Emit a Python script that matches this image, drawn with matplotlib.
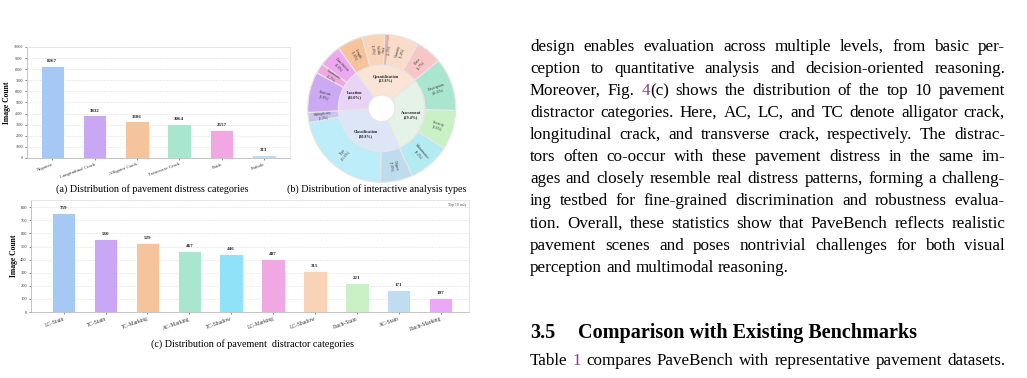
import numpy as np
import matplotlib
matplotlib.use('Agg')
import matplotlib.pyplot as plt

W, H = 1027, 378
LINK = '#8b3a96'

# (a) pavement distress categories
distress_names = ['Negative', 'Longitudinal Crack', 'Alligator Crack',
                  'Transverse Crack', 'Patch', 'Pothole']
distress_counts = [8267, 3832, 3306, 3064, 2557, 313]
distress_colors = ['#a6c8f5', '#c9a7f5', '#f5c49c', '#a9e6cf', '#f1a7e1', '#c0dcf0']

# (b) interactive analysis types, inner ring + outer ring
task_names = ['Quantification', 'Assessment', 'Classification', 'Location']
task_pct = [23.8, 29.4, 30.8, 16.0]
task_colors = ['#fbe4d5', '#e4f2e8', '#dde6f6', '#e9d3f6']
sub_names = ['Length', 'Width', 'Area', 'Quantity', 'Class',
             'Description', 'Severity', 'Maintenance',
             'Degree', 'Type', 'Multiplicity',
             'Position', 'Continuity', 'Distribution']
sub_pct = [5.6, 5.0, 1.1, 6.4, 5.7,
           11.6, 8.6, 9.2,
           7.0, 21.6, 2.2,
           8.9, 2.2, 4.9]
sub_colors = ['#f6c39b', '#f9d4b8', '#f2aa98', '#fbdcc9', '#f7c6c7',
              '#a9e5cf', '#c9f1c5', '#b3ebf2',
              '#bfdcef', '#bdedf8', '#cbc6ef',
              '#cda9f3', '#f0a9e0', '#eea8ef']

# (c) top 10 distractor categories
distractor_names = ['LC-Stain', 'TC-Stain', 'TC-Marking', 'AC-Marking', 'TC-Shadow',
                    'LC-Marking', 'LC-Shadow', 'Patch-Stain', 'AC-Stain', 'Patch-Marking']
distractor_counts = [759, 560, 529, 467, 446, 407, 315, 221, 171, 107]
distractor_colors = ['#a6c8f5', '#c9a7f5', '#f5c49c', '#a9e6cf', '#8fe2f8',
                     '#f1a7e1', '#f8d3b6', '#c9f1c5', '#c0dcf0', '#eba8f8']

body_lines = [
    'design enables evaluation across multiple levels, from basic per-',
    'ception to quantitative analysis and decision-oriented reasoning.',
    'Moreover, Fig. [4](c) shows the distribution of the top 10 pavement',
    'distractor categories. Here, AC, LC, and TC denote alligator crack,',
    'longitudinal crack, and transverse crack, respectively. The distrac-',
    'tors often co-occur with these pavement distress in the same im-',
    'ages and closely resemble real distress patterns, forming a challeng-',
    'ing testbed for fine-grained discrimination and robustness evalua-',
    'tion. Overall, these statistics show that PaveBench reflects realistic',
    'pavement scenes and poses nontrivial challenges for both visual',
    'perception and multimodal reasoning.',
]
section_no = '3.5'
section_title = 'Comparison with Existing Benchmarks'
after_lines = [
    'Table [1] compares PaveBench with representative pavement datasets.',
]

plt.rcParams['font.family'] = ['Liberation Serif', 'DejaVu Serif']

fig = plt.figure(figsize=(W / 100, H / 100), dpi=100)
renderer = fig.canvas.get_renderer()


def add_ax(left, top, right, bottom):
    return fig.add_axes([left / W, 1 - bottom / H, (right - left) / W, (bottom - top) / H])


def bar_panel(box, names, counts, colors, ymax, ystep, tick_fs, lab_fs):
    ax = add_ax(*box)
    x = np.arange(len(names))
    ax.bar(x, counts, width=0.56, color=colors, edgecolor='white', linewidth=0.6, zorder=2)
    for xi, v in zip(x, counts):
        ax.text(xi, v + ymax * 0.025, str(v), ha='center', va='bottom',
                fontsize=lab_fs, fontweight='bold', color='#222222')
    ax.set_ylim(0, ymax)
    ax.set_yticks(np.arange(0, ymax + 1, ystep))
    ax.set_xticks(x, names, rotation=20, ha='right', rotation_mode='anchor')
    ax.tick_params(axis='y', labelsize=tick_fs * 0.8, length=1.5, width=0.4, pad=1.5, colors='#333333')
    ax.tick_params(axis='x', labelsize=tick_fs, length=1.5, width=0.4, pad=1.5, colors='#333333')
    ax.grid(axis='y', ls='--', lw=0.4, color='#dddddd', zorder=0)
    for s in ax.spines.values():
        s.set_color('#e2e2e2')
        s.set_linewidth(0.6)
    ax.spines['left'].set_color('#bbbbbb')
    ax.spines['bottom'].set_color('#bbbbbb')
    ax.set_ylabel('Image Count', fontsize=5.5, fontweight='bold', labelpad=2)
    return ax


# (a)
ax_a = bar_panel((27, 47, 290, 158), distress_names, distress_counts, distress_colors,
                 10000, 1000, 3.4, 3.6)
ax_a.set_xlim(-0.6, 5.62)

# (c)
ax_c = bar_panel((31, 200, 469, 312), distractor_names, distractor_counts, distractor_colors,
                 856, 100, 4.0, 3.6)
ax_c.set_xlim(-0.78, 9.68)
ax_c.text(0.995, 0.97, 'Top 10 only', transform=ax_c.transAxes, ha='right', va='top',
          fontsize=2.8, color='#555555')

# (b) sunburst
ax_b = add_ax(307.7, 34.3, 455.7, 182.3)
start = 125.7
r_hole, r_mid = 0.18, 0.585
edge = dict(edgecolor='#e6e6e6', linewidth=0.9)
ax_b.pie(task_pct, radius=r_mid, colors=task_colors, startangle=start, counterclock=False,
         wedgeprops=dict(width=r_mid - r_hole, **edge))
ax_b.pie(sub_pct, radius=1.0, colors=sub_colors, startangle=start, counterclock=False,
         wedgeprops=dict(width=1.0 - r_mid, **edge))


def mid_angles(pcts):
    c = np.cumsum([0] + list(pcts))
    return start - (c[:-1] + np.array(pcts) / 2) * 3.6


for name, p, a in zip(task_names, task_pct, mid_angles(task_pct)):
    t = np.deg2rad(a)
    ax_b.text(0.41 * np.cos(t), 0.41 * np.sin(t), f'{name}\n({p:.1f}%)', ha='center',
              va='center', fontsize=3.0, fontweight='bold', color='#222222', linespacing=1.1)

for name, p, a in zip(sub_names, sub_pct, mid_angles(sub_pct)):
    t = np.deg2rad(a)
    rot = (a + 180) % 360 - 180
    if rot > 90:
        rot -= 180
    elif rot < -90:
        rot += 180
    ax_b.text(0.795 * np.cos(t), 0.795 * np.sin(t), f'{name}\n({p:.1f}%)', ha='center',
              va='center', fontsize=2.7, rotation=rot, rotation_mode='anchor',
              color='#333333', linespacing=1.05)
ax_b.set_xlim(-1, 1)
ax_b.set_ylim(-1, 1)
ax_b.set_aspect('equal')

# captions
cap_fs = 7.3
fig.text(152.5 / W, 1 - 191.7 / H, '(a) Distribution of pavement distress categories',
         ha='center', va='baseline', fontsize=cap_fs)
fig.text(377 / W, 1 - 191.7 / H, '(b) Distribution of interactive analysis types',
         ha='center', va='baseline', fontsize=cap_fs)
fig.text(252.5 / W, 1 - 346.7 / H, '(c) Distribution of pavement  distractor categories',
         ha='center', va='baseline', fontsize=cap_fs)


# right column text, justified word by word
def text_width(s, size, weight='normal'):
    t = fig.text(0, 0, s, fontsize=size, fontweight=weight)
    w = t.get_window_extent(renderer).width
    t.remove()
    return w


def split_segments(word):
    segs = []
    for i, part in enumerate(word.replace(']', '[').split('[')):
        if part:
            segs.append((part, LINK if i % 2 else 'black'))
    return segs


def draw_line(line, x0, x1, base, size, weight='normal', justify=True):
    words = [split_segments(w) for w in line.split()]
    widths = [[text_width(s, size, weight) for s, c in w] for w in words]
    total = sum(sum(w) for w in widths)
    if justify and len(words) > 1:
        gap = (x1 - x0 - total) / (len(words) - 1)
    else:
        gap = text_width('a a', size, weight) - text_width('aa', size, weight)
    x = x0
    for w, ws in zip(words, widths):
        for (s, c), sw in zip(w, ws):
            fig.text(x / W, 1 - base / H, s, fontsize=size, fontweight=weight, color=c,
                     va='baseline', ha='left')
            x += sw
        x += gap


x_left, x_right = 530, 1005
# pick a body size so the widest line just fits the column
plain = [l.replace('[', '').replace(']', '') for l in body_lines + after_lines]
widest = max(text_width(l, 10) for l in plain)
body_fs = 10 * (x_right - x_left) * 0.985 / widest

for i, line in enumerate(body_lines):
    draw_line(line, x_left, x_right, 50.7 + i * 22.1, body_fs,
              justify=i < len(body_lines) - 1)

fig.text(x_left / W, 1 - 338.3 / H, section_no, fontsize=14.5, fontweight='bold', va='baseline')
fig.text(578 / W, 1 - 338.3 / H, section_title, fontsize=14.5, fontweight='bold', va='baseline')
for i, line in enumerate(after_lines):
    draw_line(line, x_left, x_right, 365 + i * 22.1, body_fs)

fig.savefig('out.png', dpi=100)
